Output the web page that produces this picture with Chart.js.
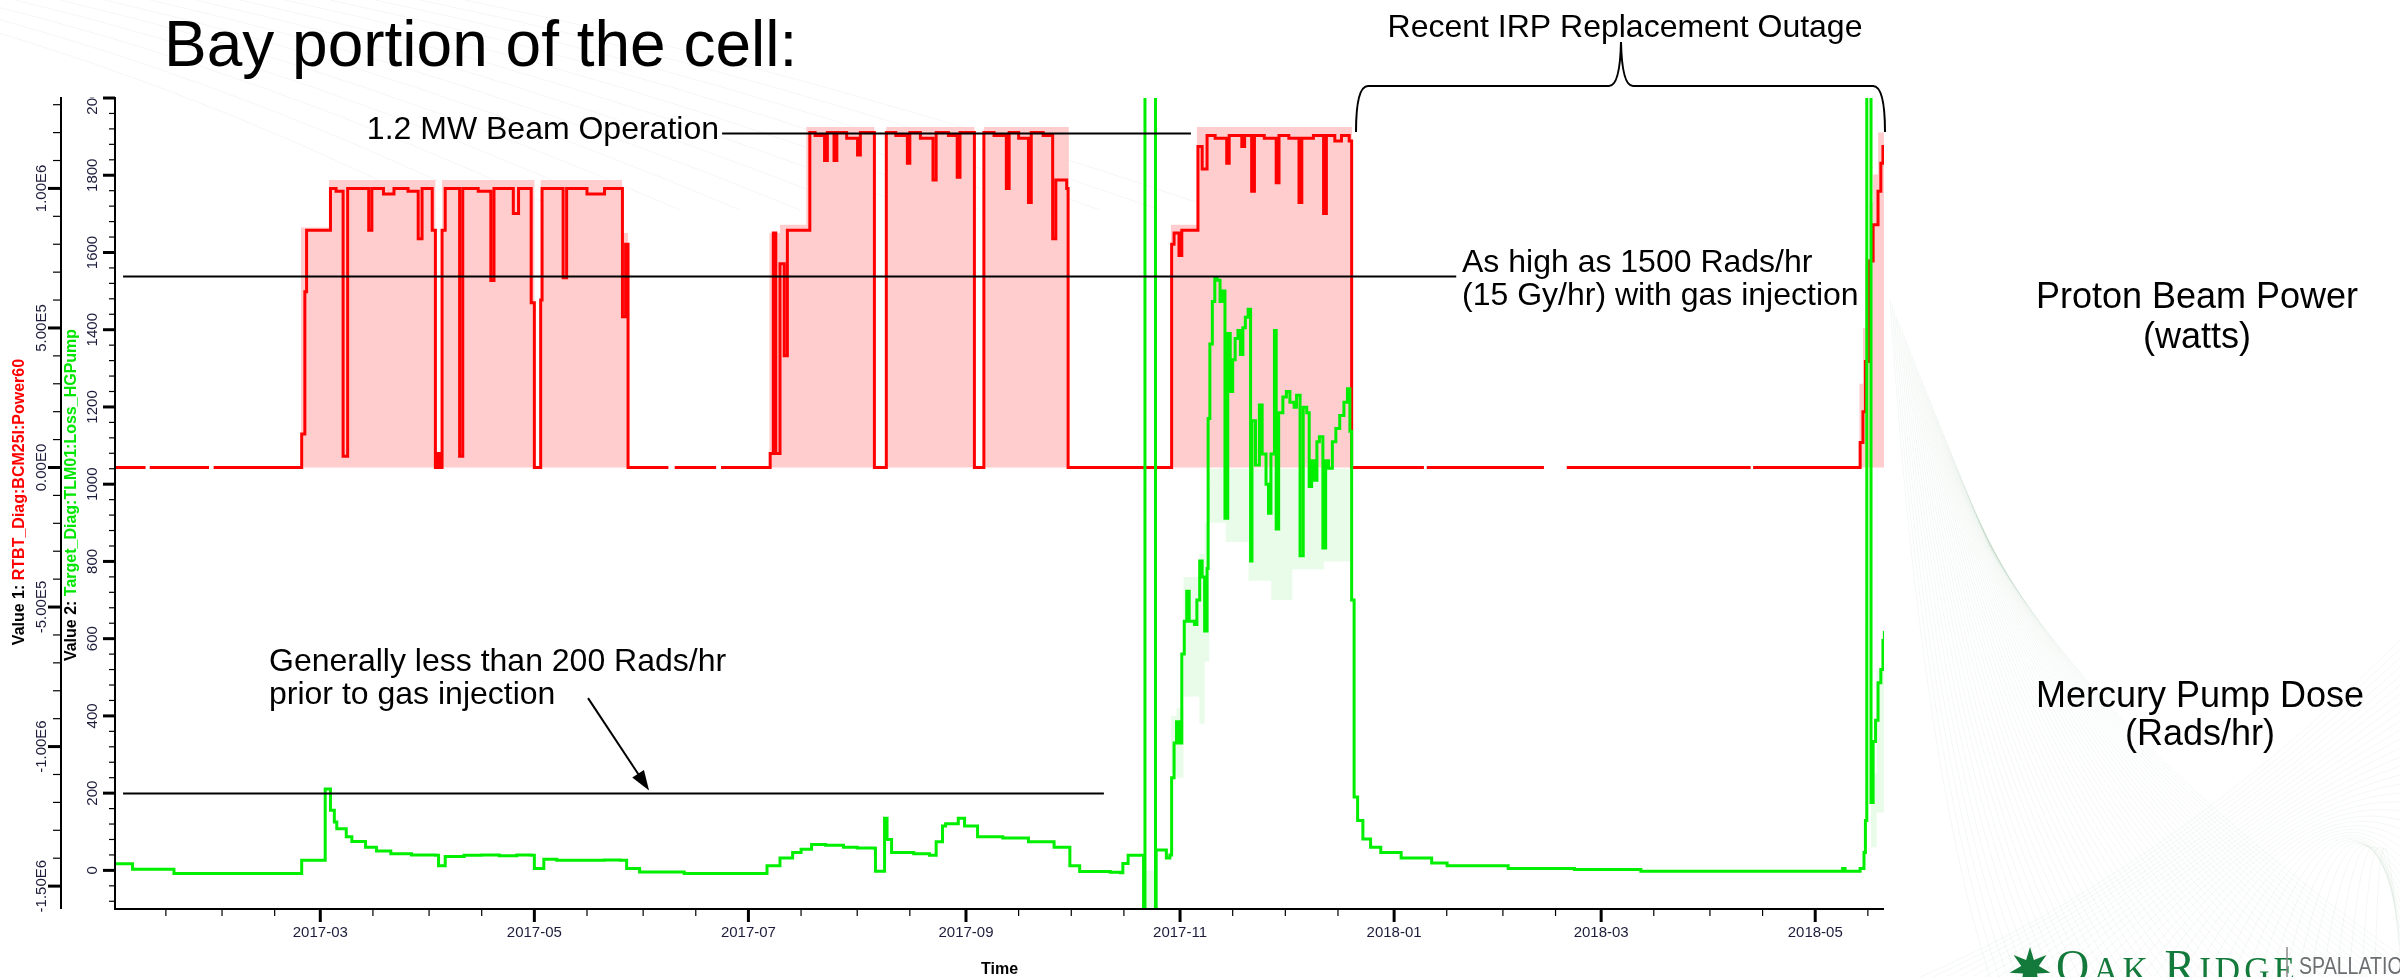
<!DOCTYPE html>
<html>
<head>
<meta charset="utf-8">
<title>Bay portion of the cell</title>
<script src="https://cdn.jsdelivr.net/npm/chart.js@4.4.1/dist/chart.umd.min.js"></script>
<style>
  html, body { margin: 0; padding: 0; background: #fff; }
  #wrap { width: 2400px; height: 977px; }
</style>
</head>
<body>
<div id="wrap"><canvas id="chart" width="2400" height="977"></canvas></div>
<script>
// time is counted in days from 2017-01-01
// Value 1: proton beam power (MW), drawn as a step line
const powerDays = [
  0.5, 9.2, 9.25, 10.4, 27.3, 27.35, 28.6, 53.7, 54.6, 55.1,
  61.9, 63.5, 65.5, 66.8, 72.8, 73.7, 77, 80, 84, 86.9,
  88, 90.9, 91.8, 92.5, 93.2, 93.7, 94.6, 98.7, 99.6, 104,
  107.6, 108.5, 114, 115.5, 119.1, 120, 121.8, 122.2, 128.2, 129.2,
  135, 140, 145.1, 146.0, 146.7, 158.2, 158.25, 160, 171.8, 171.85,
  173.2, 187.2, 188.1, 188.8, 190, 191.2, 192.1, 198.5, 200, 202.7,
  203.5, 205.4, 206.2, 209, 212.1, 212.9, 216.9, 220.3, 223, 226.3,
  227, 230, 233.6, 234.5, 238, 240.5, 241.3, 245.4, 248.1, 251,
  254.5, 255.3, 258, 260.8, 261.6, 265, 267.7, 268.6, 271.7, 272.1,
  301.6, 302.3, 303.7, 304.5, 309.1, 310.3, 311.7, 314, 317.3, 318,
  321.6, 322.4, 324.4, 325.2, 328, 331.4, 332.2, 335, 337.9, 338.7,
  342, 344.9, 345.7, 348.1, 350, 352.2, 352.9, 373.5, 373.55, 374.3,
  407.7, 407.75, 414.2, 466.6, 466.65, 467.3, 497.8, 498.6, 499.3, 500.5,
  501.5, 502.9, 503.7, 504.3, 504.7
];
const powerMW = [
  0, 0, null, 0, 0, null, 0, 0.12, 0.63, 0.85,
  1.0, 0.99, 0.04, 1.0, 0.85, 1.0, 0.98, 1.0, 0.99, 0.82,
  1.0, 0.85, 0, 0.05, 0, 0.85, 1.0, 0.04, 1.0, 0.99,
  0.67, 1.0, 0.91, 1.0, 0.59, 0, 0.6, 1.0, 0.68, 1.0,
  0.98, 1.0, 0.54, 0.8, 0, 0, null, 0, 0, null,
  0, 0.05, 0.84, 0.05, 0.73, 0.4, 0.85, 1.2, 1.19, 1.1,
  1.2, 1.1, 1.2, 1.18, 1.12, 1.2, 0, 1.2, 1.19, 1.09,
  1.2, 1.18, 1.03, 1.2, 1.19, 1.04, 1.2, 0, 1.2, 1.19,
  1.0, 1.2, 1.18, 0.95, 1.2, 1.19, 0.82, 1.03, 1.0, 0,
  0.8, 0.84, 0.76, 0.85, 1.15, 1.07, 1.19, 1.18, 1.09, 1.19,
  1.15, 1.19, 0.99, 1.19, 1.18, 1.02, 1.19, 1.18, 0.95, 1.18,
  1.19, 0.91, 1.19, 1.17, 1.19, 1.17, 0, 0, null, 0,
  0, null, 0, 0, null, 0, 0.09, 0.2, 0.38, 0.74,
  0.87, 0.99, 1.09, 1.15, 1.15
];
// light pink min/max envelope of the power signal (MW)
const envelopeDays = [
  0.5, 53.5, 61.5, 91.8, 93.7, 120, 121.8, 145, 146.7, 187,
  190, 197.5, 216.9, 220.3, 245.4, 248.1, 272.3, 301.4, 308.8, 353,
  497.6, 498.6, 499.3, 500.5, 501.5, 502.9, 504.7
];
const envelopeMW = [
  0, 0.86, 1.03, 0, 1.03, 0, 1.03, 0.84, 0, 0.84,
  0.87, 1.22, 0, 1.22, 0, 1.22, 0, 0.87, 1.22, 0,
  0.3, 0.5, 0.75, 0.95, 1.05, 1.2, 1.2
];
// Value 2: mercury pump dose (Rads/hr)
const doseDays = [
  0.5, 5.5, 17.3, 53.7, 60.4, 61.9, 63, 63.7, 66.4, 68,
  71.9, 75, 79.1, 85, 91.8, 92.7, 94.6, 100, 105, 110,
  115, 119.1, 120, 122.7, 126.4, 140, 144.5, 146.3, 150, 162.7,
  185.4, 186.3, 190, 193.6, 196, 199, 203, 208.1, 212, 216.9,
  217.2, 219.4, 219.8, 220.5, 221.8, 228.1, 232.6, 234.5, 236.3, 237.2,
  240.8, 242.6, 246.3, 253.5, 260.8, 268.1, 271.7, 272.6, 275.4, 284.1,
  287, 287.7, 289.2, 292.8, 293.6, 294.0, 297.0, 297.2, 300.1, 301.1,
  301.6, 302.3, 303, 303.7, 304.5, 305.2, 305.9, 306.6, 308.1, 308.8,
  309.6, 310.3, 311, 311.7, 312, 312.5, 313.2, 313.9, 314.6, 315.4,
  316.1, 316.8, 317.6, 318.3, 319, 319.7, 320.5, 321.2, 321.9, 322.6,
  323.4, 324.1, 324.5, 325.5, 326.6, 327.4, 328.5, 329.2, 329.9, 330.9,
  331.4, 332.1, 333.3, 334.3, 335.3, 336.5, 337.2, 338.2, 339.1, 340.1,
  340.8, 341.5, 342.3, 343, 343.7, 344.7, 345.5, 346.3, 347.4, 348.4,
  349.5, 350.7, 351.7, 352.4, 352.9, 353.6, 354.6, 356.1, 358.3, 361.2,
  367, 375.7, 380.1, 397.5, 416.4, 435.3, 492, 492.8, 493.5, 497.8,
  498.9, 499.3, 499.7, 500.9, 501.5, 502.2, 502.9, 503.7, 504.3, 504.7
];
const doseRads = [
  17, 3, -8, 26, 211, 156, 125, 108, 87, 75,
  60, 50, 43, 40, 39, 12, 36, 39, 40, 38,
  40, 39, 5, 29, 26, 27, 26, 5, -4, -8,
  -8, 12, 32, 46, 55, 67, 65, 60, 58, 57,
  -2, -2, 135, 80, 46, 43, 39, 74, 115, 121,
  135, 115, 87, 84, 74, 60, 60, 12, -3, -5,
  -6, 18, 39, 39, -95, 2300, -95, 53, 32, 40,
  240, 330, 385, 330, 560, 645, 723, 645, 637, 700,
  801, 760, 620, 782, 1170, 1363, 1473, 1535, 1528, 1473,
  1500, 912, 1390, 1240, 1322, 1377, 1398, 1336, 1405, 1432,
  1453, 801, 1164, 1050, 1205, 1078, 1000, 925, 1078, 1398,
  884, 1185, 1226, 1240, 1212, 1199, 1230, 815, 1199, 1185,
  994, 1061, 1010, 1110, 1123, 835, 1061, 1041, 1110, 1144,
  1178, 1212, 1247, 1137, 700, 190, 129, 81, 60, 46,
  32, 19, 12, 5, 2, -2, -2, 5, -2, 5,
  46, 129, 2100, 176, 334, 389, 486, 520, 595, 620
];
// pale green min/max band of the dose signal (Rads/hr), seen below the pink area
const doseBandDays = [0.5, 293.9, 297.1, 301.4, 303, 305, 309.5, 311, 312.3, 317, 323.5, 330, 336, 345, 352.9, 498.5, 500.9, 502.5, 504.6];
const doseBandLow = [0, -100, 0, 250, 240, 450, 380, 540, 900, 850, 750, 700, 780, 800, 0, 0, 60, 150, 300];
const doseBandHigh = [0, 0, 0, 400, 420, 760, 820, 900, 1040, 1040, 1040, 1040, 1040, 1040, 0, 0, 250, 520, 640];

const powerTickValues = [-1.5e6, -1e6, -5e5, 0, 5e5, 1e6];
const powerTickLabels = ['-1.50E6', '-1.00E6', '-5.00E5', '0.00E0', '5.00E5', '1.00E6'];
const doseTickValues = [0, 200, 400, 600, 800, 1000, 1200, 1400, 1600, 1800, 2000];
const doseTickLabels = ['0', '200', '400', '600', '800', '1000', '1200', '1400', '1600', '1800', '2000'];
const dateTickLabels = ['2017-03', '2017-05', '2017-07', '2017-09', '2017-11', '2018-01', '2018-03', '2018-05'];

const X_MIN = 0.5, X_MAX = 504.6;
const POWER_MIN = -1.582e6, POWER_MAX = 1.324e6;
const DOSE_MIN = -100, DOSE_MAX = 2000;
const OUTER_AXIS_X = 61;
const SANS = '"Liberation Sans", Arial, sans-serif';

function dayOf(iso) {
  const p = iso.split('-').map(Number);
  return (Date.UTC(p[0], p[1] - 1, p[2]) - Date.UTC(2017, 0, 1)) / 86400000;
}

function points(days, vals, k) {
  return days.map((d, i) => ({ x: d, y: vals[i] === null ? null : vals[i] * k }));
}

function rotText(ctx, txt, x, y, font, color) {
  ctx.save();
  ctx.translate(x, y);
  ctx.rotate(-Math.PI / 2);
  ctx.font = font;
  ctx.fillStyle = color;
  ctx.textAlign = 'center';
  ctx.textBaseline = 'middle';
  ctx.fillText(txt, 0, 0);
  ctx.restore();
}

function rotTitle(ctx, parts, x, y) {
  ctx.save();
  ctx.translate(x, y);
  ctx.rotate(-Math.PI / 2);
  ctx.font = 'bold 16px ' + SANS;
  ctx.textBaseline = 'middle';
  ctx.textAlign = 'left';
  const w = parts.reduce((s, p) => s + ctx.measureText(p[0]).width, 0);
  let pos = -w / 2;
  parts.forEach(p => {
    ctx.fillStyle = p[1];
    ctx.fillText(p[0], pos, 0);
    pos += ctx.measureText(p[0]).width;
  });
  ctx.restore();
}

function drawBackdrop(ctx) {
  ctx.save();
  ctx.lineWidth = 1;
  ctx.strokeStyle = 'rgba(0,0,0,0.04)';
  for (let i = 0; i < 14; i++) {
    ctx.beginPath();
    ctx.moveTo(-120 + i * 45, 0);
    ctx.quadraticCurveTo(160 + i * 50, 70, 440 + i * 60, 210);
    ctx.stroke();
  }
  ctx.strokeStyle = 'rgba(60,130,80,0.06)';
  for (let i = 0; i < 50; i++) {
    ctx.beginPath();
    ctx.moveTo(1890 + i * 2, 300 + i * 5);
    ctx.quadraticCurveTo(1920 + i * 4, 760, 1990 + i * 9, 977);
    ctx.stroke();
  }
  for (let i = 0; i < 36; i++) {
    ctx.beginPath();
    ctx.moveTo(1920 + i * 13, 977);
    ctx.quadraticCurveTo(2170 + i * 6, 870 - i * 4, 2400, 640 + i * 9);
    ctx.stroke();
  }
  ctx.restore();
}

function drawAxes(chart) {
  const ctx = chart.ctx, a = chart.chartArea;
  const xs = chart.scales.x, yp = chart.scales.yPower, yd = chart.scales.yDose;
  ctx.save();
  ctx.strokeStyle = '#000';
  ctx.lineWidth = 2;
  ctx.beginPath();
  ctx.moveTo(a.left, a.top - 1);
  ctx.lineTo(a.left, a.bottom);
  ctx.lineTo(a.right, a.bottom);
  ctx.moveTo(OUTER_AXIS_X, a.top - 1);
  ctx.lineTo(OUTER_AXIS_X, a.bottom);
  ctx.stroke();

  const hTick = (x0, y, len, w) => {
    ctx.lineWidth = w;
    ctx.beginPath();
    ctx.moveTo(x0 - len, y);
    ctx.lineTo(x0, y);
    ctx.stroke();
  };
  const vTick = (x, len, w) => {
    ctx.lineWidth = w;
    ctx.beginPath();
    ctx.moveTo(x, a.bottom);
    ctx.lineTo(x, a.bottom + len);
    ctx.stroke();
  };

  // outer (power) axis
  for (let k = -15; k <= 13; k++) hTick(OUTER_AXIS_X, yp.getPixelForValue(k * 1e5), 8, 1.2);
  powerTickValues.forEach(v => hTick(OUTER_AXIS_X, yp.getPixelForValue(v), 13, 3));
  // inner (dose) axis
  for (let k = -2; k <= 50; k++) hTick(a.left, yd.getPixelForValue(k * 40), 6, 1.2);
  doseTickValues.forEach(v => hTick(a.left, yd.getPixelForValue(v), 12, 3));

  // time axis: minor ticks on the 1st and 16th of each month
  for (let yr = 2017; yr <= 2018; yr++) {
    for (let m = 1; m <= 12; m++) {
      [1, 16].forEach(dd => {
        const d = dayOf(yr + '-' + m + '-' + dd);
        if (d > X_MIN && d < X_MAX) vTick(xs.getPixelForValue(d), 7, 1.2);
      });
    }
  }
  ctx.fillStyle = '#1c1c3a';
  ctx.font = '15px ' + SANS;
  ctx.textAlign = 'center';
  ctx.textBaseline = 'middle';
  dateTickLabels.forEach(lab => {
    const px = xs.getPixelForValue(dayOf(lab + '-01'));
    vTick(px, 13, 3);
    ctx.fillText(lab, px, a.bottom + 24);
  });
  ctx.fillStyle = '#000';
  ctx.font = 'bold 16px ' + SANS;
  ctx.fillText('Time', (a.left + a.right) / 2, 970);

  // tick labels, clipped at the top of the panel like the original
  ctx.save();
  ctx.beginPath();
  ctx.rect(0, a.top - 1, a.left, chart.height);
  ctx.clip();
  powerTickValues.forEach((v, i) => rotText(ctx, powerTickLabels[i], 42, yp.getPixelForValue(v), '15px ' + SANS, '#1c1c3a'));
  doseTickValues.forEach((v, i) => rotText(ctx, doseTickLabels[i], 93, yd.getPixelForValue(v), '15px ' + SANS, '#1c1c3a'));
  ctx.restore();

  rotTitle(ctx, [['Value 1: ', '#000'], ['RTBT_Diag:BCM25I:Power60', '#ff0000']], 20, 502);
  rotTitle(ctx, [['Value 2: ', '#000'], ['Target_Diag:TLM01:Loss_HGPump', '#00e600']], 72, 495);
  ctx.restore();
}

// reference lines drawn over the traces, in data units
const guideLines = [
  { axis: 'yPower', value: 1.2e6, from: 173.5, to: 307.1 },
  { axis: 'yDose', value: 1540, from: 2.8, to: 382.7 },
  { axis: 'yDose', value: 200, from: 2.8, to: 282.3 }
];

function drawGuides(chart) {
  const ctx = chart.ctx, xs = chart.scales.x;
  ctx.save();
  ctx.strokeStyle = '#000';
  ctx.lineWidth = 2;
  guideLines.forEach(g => {
    const y = Math.round(chart.scales[g.axis].getPixelForValue(g.value)) + 0.5;
    ctx.beginPath();
    ctx.moveTo(xs.getPixelForValue(g.from), y);
    ctx.lineTo(xs.getPixelForValue(g.to), y);
    ctx.stroke();
  });
  // arrow pointing at the 200 Rads/hr line
  const yd = chart.scales.yDose;
  const x0 = xs.getPixelForValue(135.3), y0 = yd.getPixelForValue(446);
  const x1 = xs.getPixelForValue(152.7), y1 = yd.getPixelForValue(207);
  const ang = Math.atan2(y1 - y0, x1 - x0);
  ctx.beginPath();
  ctx.moveTo(x0, y0);
  ctx.lineTo(x1 - 14 * Math.cos(ang), y1 - 14 * Math.sin(ang));
  ctx.stroke();
  ctx.fillStyle = '#000';
  ctx.beginPath();
  ctx.moveTo(x1, y1);
  ctx.lineTo(x1 - 20 * Math.cos(ang) + 7 * Math.sin(ang), y1 - 20 * Math.sin(ang) - 7 * Math.cos(ang));
  ctx.lineTo(x1 - 20 * Math.cos(ang) - 7 * Math.sin(ang), y1 - 20 * Math.sin(ang) + 7 * Math.cos(ang));
  ctx.closePath();
  ctx.fill();
  ctx.restore();
}

function drawTexts(chart) {
  const ctx = chart.ctx;
  ctx.save();
  ctx.fillStyle = '#000';
  ctx.textBaseline = 'alphabetic';
  ctx.font = '64px ' + SANS;
  ctx.textAlign = 'left';
  ctx.fillText('Bay portion of the cell:', 164, 66);

  ctx.font = '32px ' + SANS;
  ctx.textAlign = 'center';
  ctx.fillText('Recent IRP Replacement Outage', 1625, 37);
  ctx.textAlign = 'right';
  ctx.fillText('1.2 MW Beam Operation', 719, 139);
  ctx.textAlign = 'left';
  ctx.fillText('As high as 1500 Rads/hr', 1462, 272);
  ctx.fillText('(15 Gy/hr) with gas injection', 1462, 305);
  ctx.fillText('Generally less than 200 Rads/hr', 269, 671);
  ctx.fillText('prior to gas injection', 269, 704);

  ctx.font = '36px ' + SANS;
  ctx.textAlign = 'center';
  ctx.fillText('Proton Beam Power', 2197, 308);
  ctx.fillText('(watts)', 2197, 348);
  ctx.fillText('Mercury Pump Dose', 2200, 707);
  ctx.fillText('(Rads/hr)', 2200, 745);

  // brace over the outage
  const x0 = 1356, x1 = 1885, xm = 1621, yEnd = 132, yBar = 86, yPeak = 42;
  ctx.strokeStyle = '#000';
  ctx.lineWidth = 2;
  ctx.beginPath();
  ctx.moveTo(x0, yEnd);
  ctx.quadraticCurveTo(x0, yBar, x0 + 12, yBar);
  ctx.lineTo(xm - 12, yBar);
  ctx.quadraticCurveTo(xm - 1, yBar, xm, yPeak);
  ctx.quadraticCurveTo(xm + 1, yBar, xm + 12, yBar);
  ctx.lineTo(x1 - 12, yBar);
  ctx.quadraticCurveTo(x1, yBar, x1, yEnd);
  ctx.stroke();
  ctx.restore();
}

function drawLogo(ctx) {
  ctx.save();
  const green = '#137a3b';
  // oak leaf mark
  ctx.fillStyle = green;
  ctx.beginPath();
  const cx = 2030, cy = 968;
  for (let i = 0; i < 14; i++) {
    const r = i % 2 === 0 ? 21 : 9;
    const t = -Math.PI / 2 + i * Math.PI / 7;
    ctx.lineTo(cx + r * Math.cos(t), cy + r * Math.sin(t));
  }
  ctx.closePath();
  ctx.fill();
  // small-caps wordmark
  let x = 2056;
  const parts = [['O', 46], ['A', 35], ['K', 35], [' ', 35], ['R', 46], ['I', 35], ['D', 35], ['G', 35], ['E', 35]];
  ctx.textBaseline = 'alphabetic';
  ctx.textAlign = 'left';
  parts.forEach(p => {
    ctx.font = p[1] + 'px "Liberation Serif", serif';
    ctx.fillText(p[0], x, 982);
    x += ctx.measureText(p[0]).width + 4;
  });
  ctx.strokeStyle = '#8a8a8a';
  ctx.lineWidth = 1.5;
  ctx.beginPath();
  ctx.moveTo(2287, 947);
  ctx.lineTo(2287, 977);
  ctx.stroke();
  ctx.fillStyle = '#6d6e71';
  ctx.translate(2299, 0);
  ctx.scale(0.85, 1);
  ctx.font = '23px ' + SANS;
  ctx.fillText('SPALLATION', 0, 974);
  ctx.fillText('NEUTRON SOURCE', 0, 1001);
  ctx.restore();
}

const slidePlugin = {
  id: 'slide',
  beforeDraw(chart) {
    const ctx = chart.ctx;
    ctx.save();
    ctx.fillStyle = '#fff';
    ctx.fillRect(0, 0, chart.width, chart.height);
    ctx.restore();
    drawBackdrop(ctx);
  },
  afterDatasetsDraw(chart) {
    drawGuides(chart);
  },
  afterDraw(chart) {
    drawAxes(chart);
    drawTexts(chart);
    drawLogo(chart.ctx);
  }
};

// 'before' = hold the previous value, then step at the new point
new Chart(document.getElementById('chart'), {
  type: 'line',
  data: {
    datasets: [
      {
        label: 'Target_Diag:TLM01:Loss_HGPump',
        data: points(doseDays, doseRads, 1),
        yAxisID: 'yDose',
        borderColor: '#00ee00',
        borderWidth: 3,
        pointRadius: 0,
        stepped: 'before',
        fill: false,
        order: 0
      },
      {
        label: 'RTBT_Diag:BCM25I:Power60',
        data: points(powerDays, powerMW, 1e6),
        yAxisID: 'yPower',
        borderColor: '#ff0000',
        borderWidth: 3,
        pointRadius: 0,
        stepped: 'before',
        spanGaps: false,
        fill: false,
        order: 1
      },
      {
        label: 'Dose band high',
        data: points(doseBandDays, doseBandHigh, 1),
        yAxisID: 'yDose',
        borderColor: 'rgba(0,0,0,0)',
        borderWidth: 0,
        backgroundColor: 'rgba(40,230,40,0.10)',
        pointRadius: 0,
        stepped: 'before',
        fill: '+1',
        order: 2
      },
      {
        label: 'Dose band low',
        data: points(doseBandDays, doseBandLow, 1),
        yAxisID: 'yDose',
        borderColor: 'rgba(0,0,0,0)',
        borderWidth: 0,
        pointRadius: 0,
        stepped: 'before',
        fill: false,
        order: 3
      },
      {
        label: 'Power envelope',
        data: points(envelopeDays, envelopeMW, 1e6),
        yAxisID: 'yPower',
        borderColor: 'rgba(0,0,0,0)',
        borderWidth: 0,
        backgroundColor: '#ffcdcd',
        pointRadius: 0,
        stepped: 'before',
        fill: 'origin',
        order: 4
      }
    ]
  },
  options: {
    responsive: false,
    devicePixelRatio: 1,
    animation: false,
    events: [],
    layout: { padding: { left: 115, right: 516, top: 98, bottom: 68 } },
    plugins: { legend: { display: false }, tooltip: { enabled: false }, title: { display: false } },
    scales: {
      x: { type: 'linear', min: X_MIN, max: X_MAX, display: false },
      yPower: { type: 'linear', position: 'left', min: POWER_MIN, max: POWER_MAX, display: false },
      yDose: { type: 'linear', position: 'left', min: DOSE_MIN, max: DOSE_MAX, display: false }
    }
  },
  plugins: [slidePlugin]
});
</script>
</body>
</html>
